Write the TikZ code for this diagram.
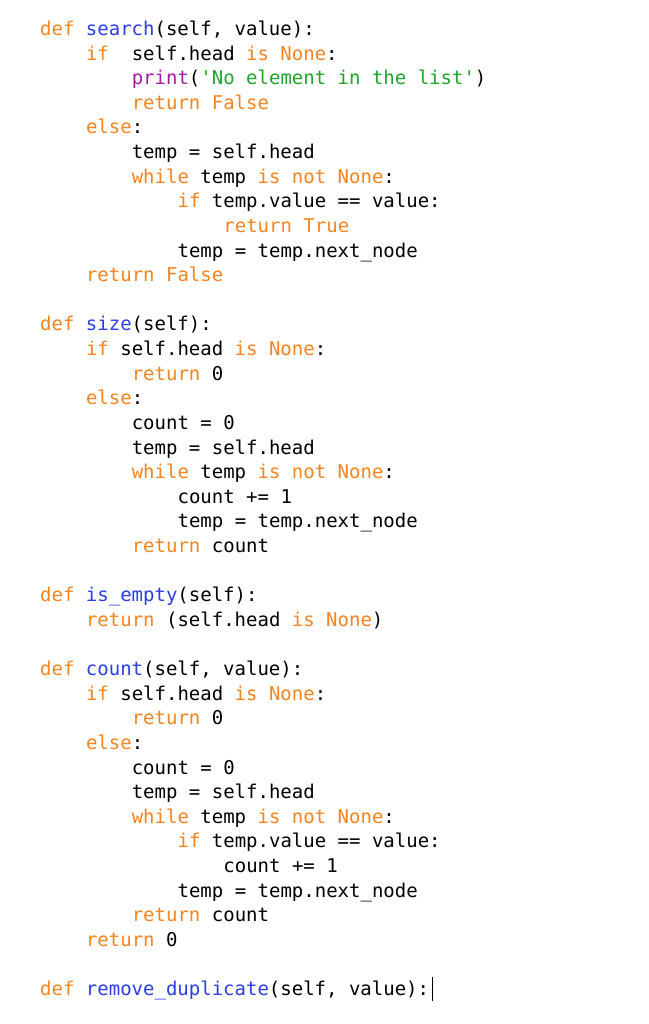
\documentclass[tikz,border=0pt]{standalone}
\usepackage{fontspec}
\newfontfamily\codefont{DejaVu Sans Mono}[Scale=1.0]
\definecolor{kwc}{HTML}{F5841F}
\definecolor{fnc}{HTML}{2A3FE6}
\definecolor{prc}{HTML}{A21FA5}
\definecolor{stc}{HTML}{1FA52A}
\newcommand{\kw}[1]{\textcolor{kwc}{#1}}
\newcommand{\fn}[1]{\textcolor{fnc}{#1}}
\newcommand{\prn}[1]{\textcolor{prc}{#1}}
\newcommand{\stc}[1]{\textcolor{stc}{#1}}
\begin{document}
\begin{tikzpicture}[x=1pt,y=-1pt,
  cl/.style={anchor=base west,inner sep=0pt,font=\codefont\fontsize{19pt}{19pt}\selectfont}]
\useasboundingbox[fill=white] (0,0) rectangle (648,1024);
\newcommand{\codeln}[3]{\node[cl] (l#1) at ({40+45.8*#2},{35.5+24.62*#1}) {#3};}
\codeln{0}{0}{\kw{def} \fn{search}(self, value):}
\codeln{1}{1}{\kw{if}~~self.head \kw{is None}:}
\codeln{2}{2}{\prn{print}(\stc{'No element in the list'})}
\codeln{3}{2}{\kw{return False}}
\codeln{4}{1}{\kw{else}:}
\codeln{5}{2}{temp = self.head}
\codeln{6}{2}{\kw{while} temp \kw{is not None}:}
\codeln{7}{3}{\kw{if} temp.value == value:}
\codeln{8}{4}{\kw{return True}}
\codeln{9}{3}{temp = temp.next\_node}
\codeln{10}{1}{\kw{return False}}
\codeln{12}{0}{\kw{def} \fn{size}(self):}
\codeln{13}{1}{\kw{if} self.head \kw{is None}:}
\codeln{14}{2}{\kw{return} 0}
\codeln{15}{1}{\kw{else}:}
\codeln{16}{2}{count = 0}
\codeln{17}{2}{temp = self.head}
\codeln{18}{2}{\kw{while} temp \kw{is not None}:}
\codeln{19}{3}{count += 1}
\codeln{20}{3}{temp = temp.next\_node}
\codeln{21}{2}{\kw{return} count}
\codeln{23}{0}{\kw{def} \fn{is\_empty}(self):}
\codeln{24}{1}{\kw{return} (self.head \kw{is None})}
\codeln{26}{0}{\kw{def} \fn{count}(self, value):}
\codeln{27}{1}{\kw{if} self.head \kw{is None}:}
\codeln{28}{2}{\kw{return} 0}
\codeln{29}{1}{\kw{else}:}
\codeln{30}{2}{count = 0}
\codeln{31}{2}{temp = self.head}
\codeln{32}{2}{\kw{while} temp \kw{is not None}:}
\codeln{33}{3}{\kw{if} temp.value == value:}
\codeln{34}{4}{count += 1}
\codeln{35}{3}{temp = temp.next\_node}
\codeln{36}{2}{\kw{return} count}
\codeln{37}{1}{\kw{return} 0}
\codeln{39}{0}{\kw{def} \fn{remove\_duplicate}(self, value):}
\draw[line width=1pt] ([xshift=3pt]l39.base east) ++(0,5) -- ++(0,-24);
\end{tikzpicture}
\end{document}
